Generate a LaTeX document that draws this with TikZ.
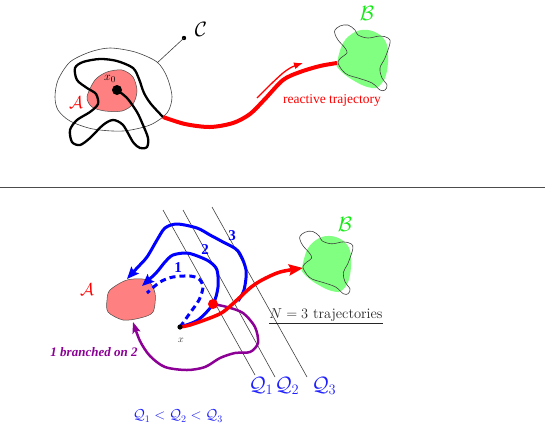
\documentclass[tikz,border=0pt]{standalone}
\usepackage{fontspec}
\newfontfamily\tms{Liberation Serif}
\usetikzlibrary{arrows.meta}
\definecolor{blobred}{RGB}{255,128,128}
\definecolor{blobgreen}{RGB}{128,255,128}
\definecolor{labgreen}{RGB}{20,235,20}
\definecolor{trblue}{RGB}{0,0,255}
\definecolor{qblue}{RGB}{30,30,255}
\definecolor{purp}{RGB}{140,0,150}
\definecolor{trred}{RGB}{255,0,0}
\tikzset{
  thinline/.style={draw=black!75, line width=0.6pt},
  blobA/.style={fill=blobred, draw=black!70, line width=0.5pt},
  calig/.style={font=\fontsize{18}{20}\selectfont, inner sep=0pt},
  bluetraj/.style={draw=trblue, line width=3pt},
  bluehead/.style={-{Stealth[length=12pt,width=10pt,inset=2pt]}},
  numlab/.style={text=trblue, font=\tms\bfseries\fontsize{15}{17}\selectfont, inner sep=0pt},
  qlab/.style={text=qblue, font=\fontsize{20}{22}\selectfont, inner sep=0pt},
  bset/.pic={
    \fill[blobgreen] plot[smooth cycle, tension=0.6] coordinates
      {(-25,5) (-19,-15) (-7,-26) (6,-28) (18,-23) (25,-13) (26,4) (23,20) (16,29) (10,30) (0,27) (-14,19) (-24,10)};
    \draw[black!75, line width=0.6pt] plot[smooth cycle, tension=0.6] coordinates
      {(-27,-28) (-22,-32) (-14,-33) (-7,-28) (-4,-23) (6,-20) (18,-22) (26,-20) (28,-15) (23,0) (18,10) (20,20) (25,27) (23,32) (18,32) (10,25) (-4,20) (-14,17) (-20,12) (-24,4) (-20,-1) (-15,-5) (-17,-10) (-24,-18) (-27,-24)};
  }
}
\begin{document}
\begin{tikzpicture}[x=1pt,y=-1pt]
\useasboundingbox (0,0) rectangle (545,432);

% ---------------- top panel ----------------
\draw[thinline] plot[smooth cycle] coordinates
  {(110,48) (135,52) (157,62) (167,77) (172,97) (167,113) (150,125) (123,131) (93,129) (70,121) (58,110) (55,97) (58,80) (70,62) (90,52)};
\coordinate (cedge) at (157,63);
\fill (184,38) circle (2.2pt);
\coordinate (cdot) at (184,38);
\draw[thinline] (cedge) -- (cdot);
\node[calig, font=\fontsize{20}{22}\selectfont] (Clab) at (201,29) {$\mathcal{C}$};

\path[blobA] plot[smooth cycle] coordinates
  {(87,97) (95,80) (107,72) (122,70) (133,77) (137,91) (133,104) (122,111) (105,111) (92,107)};
\node[calig, text=trred] (Atop) at (76,103) {$\mathcal{A}$};

\coordinate (x0) at (117,90);
\coordinate (loopend) at (163,117);
\coordinate (Bleft) at (337,63);
\draw[black, line width=2.3pt, line join=round] plot[smooth] coordinates
  {(x0) (127,98) (137,112) (143,125) (148,138) (147,147) (140,148) (133,142) (123,125) (113,120) (103,125) (90,138) (80,145) (72,142) (70,130) (77,120) (90,112) (98,104) (96,94) (87,88) (77,80) (75,68) (83,62) (100,59) (117,61) (133,68) (139,79) (144,93) (151,104) (loopend)};
\fill (x0) circle (5pt);
\node[font=\fontsize{13}{15}\selectfont, inner sep=0pt] (x0lab) at (110,79) {$x_0$};

\pic at (362,58) {bset};
\node[calig, text=labgreen, font=\fontsize{20}{22}\selectfont] (Btop) at (367,13) {$\mathcal{B}$};

\draw[trred, line width=4pt] plot[smooth] coordinates
  {(loopend) (185,124) (210,127) (233,123) (250,114) (265,99) (283,80) (300,72) (320,66) (Bleft)};
\coordinate (ra1) at (257,98);
\coordinate (ra2) at (303,63);
\draw[trred, line width=1.3pt, -{Latex[length=9pt,width=7pt]}] plot[smooth] coordinates
  {(ra1) (270,85) (283,73) (292,67) (ra2)};
\node[text=trred, font=\tms\fontsize{13.5}{15}\selectfont, inner sep=0pt] (rtlab) at (332,100) {reactive trajectory};

% separator
\coordinate (hl) at (0,187);
\coordinate (hr) at (545,187);
\draw[black!70, line width=0.7pt] (hl) -- (hr);

% ---------------- bottom panel ----------------
\coordinate (q1a) at (163,210); \coordinate (q1b) at (255,375);
\coordinate (q2a) at (183,210); \coordinate (q2b) at (275,377);
\coordinate (q3a) at (212,207); \coordinate (q3b) at (307,377);
\draw[thinline] (q1a) -- (q1b);
\draw[thinline] (q2a) -- (q2b);
\draw[thinline] (q3a) -- (q3b);
\node[qlab] (Q1) at (261,386) {$\mathcal{Q}_1$};
\node[qlab] (Q2) at (287,386) {$\mathcal{Q}_2$};
\node[qlab] (Q3) at (324,386) {$\mathcal{Q}_3$};

\path[blobA] plot[smooth cycle] coordinates
  {(110,290) (127,280) (147,280) (155,293) (153,312) (140,318) (123,320) (108,312) (107,300)};
\node[calig, text=trred] (Abot) at (87,290) {$\mathcal{A}$};

\pic[scale=0.96] at (326,263) {bset};
\node[calig, text=labgreen, font=\fontsize{20}{22}\selectfont] (Bbot) at (345,224) {$\mathcal{B}$};

\coordinate (xb) at (180,327);
\coordinate (rd) at (213,304);
\coordinate (c1t) at (147,293);
\coordinate (c2t) at (142,286);
\coordinate (c3s) at (238,301);
\coordinate (c3t) at (127,279);
\coordinate (pend) at (133,322);
\coordinate (redtip) at (303,268);

% purple branch
\draw[purp, line width=2.5pt, -{Stealth[length=11pt,width=8pt,inset=2pt]}] plot[smooth] coordinates
  {(rd) (227,307) (243,313) (255,327) (258,343) (250,352) (235,353) (220,358) (205,367) (187,370) (165,367) (150,356) (140,341) (pend)};
\node[text=purp, font=\tms\bfseries\itshape\fontsize{13}{15}\selectfont, inner sep=0pt] (brlab) at (94,352) {1 branched on 2};

% blue trajectories
\draw[bluetraj, dash pattern=on 6pt off 4pt] plot[smooth] coordinates
  {(xb) (190,313) (199,300) (203,287) (199,279) (190,276) (173,277) (160,282) (c1t)};
\draw[bluetraj, bluehead] plot[smooth] coordinates
  {(xb) (198,320) (rd) (218,287) (217,270) (210,262) (200,257) (187,253) (173,255) (165,262) (156,273) (c2t)};
\draw[bluetraj, bluehead] plot[smooth] coordinates
  {(c3s) (244,290) (246,270) (238,251) (223,242) (210,235) (197,228) (177,224) (165,228) (157,240) (147,257) (137,268) (c3t)};
\node[numlab] (n1) at (178,268) {1};
\node[numlab] (n2) at (205,250) {2};
\node[numlab] (n3) at (232,236) {3};

% red reactive trajectory
\draw[trred, line width=3.5pt, -{Stealth[length=14pt,width=11pt,inset=2pt]}] plot[smooth] coordinates
  {(xb) (190,325) (210,318) (223,312) (237,300) (250,288) (262,280) (280,272) (redtip)};

\fill[trred] (rd) circle (5pt);
\fill (xb) circle (2.6pt);
\node[font=\fontsize{10}{12}\selectfont, inner sep=0pt, text=black!80] (xlab) at (181,340) {$x$};

\node[font=\fontsize{14.5}{16}\selectfont, inner sep=0pt, text=black!85] (Nlab) at (326,316) {\underline{$N=3$ trajectories}};
\node[text=qblue, font=\fontsize{14}{16}\selectfont, inner sep=0pt] (order) at (178,416) {$\mathcal{Q}_1<\mathcal{Q}_2<\mathcal{Q}_3$};
\end{tikzpicture}
\end{document}
